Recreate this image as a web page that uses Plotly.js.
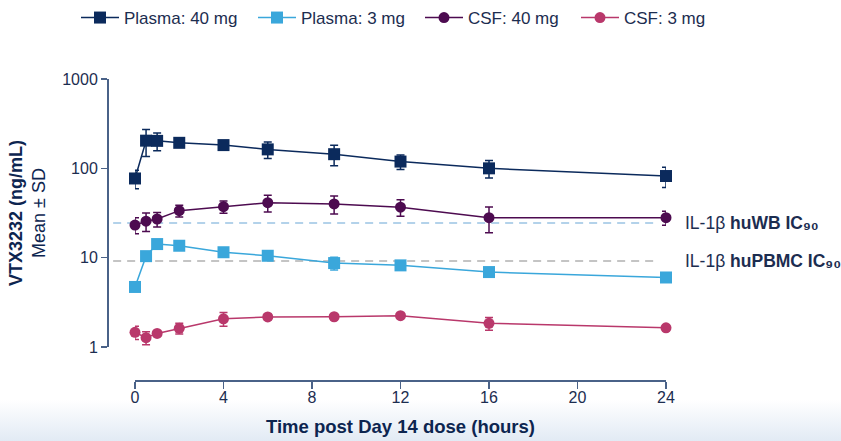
<!DOCTYPE html>
<html>
<head>
<meta charset="utf-8">
<script src="https://cdn.plot.ly/plotly-3.0.1.min.js"></script>
<style>html,body{margin:0;padding:0;background:#fff;}#chart{width:841px;height:441px;}</style>
</head>
<body>
<div id="chart"></div>
<script>
// ---- Data ----
const timeHours = [0, 0.5, 1, 2, 4, 6, 9, 12, 16, 24];
const plasma40 = [77, 204, 203, 193, 182, 163, 144, 119, 100, 82];
const plasma40Sd = [18, 68, 46, 10, 20, 34, 37, 22, 22, 21];
const plasma3 = [4.7, 10.4, 14.2, 13.6, 11.5, 10.5, 8.7, 8.2, 6.9, 6.0];
const plasma3Sd = [0.5, 0.5, 0.6, 0.6, 0.5, 0.6, 1.4, 0.5, 0.4, 0.3];
const csf40 = [23.2, 25.6, 27.1, 33.6, 37.2, 41.3, 39.9, 36.7, 28.0, 28.0];
const csf40Sd = [4.7, 6.0, 5.0, 5.0, 5.8, 8.8, 9.0, 7.7, 9.0, 5.0];
const csf3 = [1.46, 1.27, 1.42, 1.62, 2.07, 2.17, 2.18, 2.24, 1.84, 1.64];
const csf3Sd = [0.25, 0.21, 0.08, 0.22, 0.36, 0.15, 0.12, 0.10, 0.30, 0.08];
const seriesNames = ["Plasma: 40 mg", "Plasma: 3 mg", "CSF: 40 mg", "CSF: 3 mg"];
const icNames = ["IL-1β <b>huWB IC₉₀</b>", "IL-1β <b>huPBMC IC₉₀</b>"];
const icValues = [24.5, 9.2];
const xTickVals = [0, 4, 8, 12, 16, 20, 24];
const yTickVals = [1, 10, 100, 1000];
const yTickText = ["1", "10", "100", "1000"];

const navy = "#0b2a5c", lightBlue = "#3aa7db", purple = "#4d0b50", crimson = "#b9386b";
const textColor = "#1c2d50", axisColor = "#4a6288";
const legendIds = ["legend", "legend2", "legend3", "legend4"];
const legendLeftPx = [76, 253, 420, 576];

function series(i, y, sd, color, symbol, size) {
  return {
    x: timeHours, y: y, name: seriesNames[i], legend: legendIds[i],
    type: "scatter", mode: "lines+markers",
    line: {color: color, width: 1.5},
    marker: {color: color, symbol: symbol, size: size},
    error_y: {type: "data", array: sd, visible: true, color: color, thickness: 1.5, width: 4},
    cliponaxis: false
  };
}

const data = [
  series(0, plasma40, plasma40Sd, navy, "square", 12),
  series(1, plasma3, plasma3Sd, lightBlue, "square", 12),
  series(2, csf40, csf40Sd, purple, "circle", 11),
  series(3, csf3, csf3Sd, crimson, "circle", 11)
];

const icColors = ["#b3d2ea", "#c4c4c4"];
const shapes = icValues.map((v, i) => ({
  type: "line", xref: "paper", yref: "y", x0: 0.011, x1: 0.986, y0: v, y1: v,
  line: {color: icColors[i], width: 2, dash: "8px,6px"}, layer: "below"
}));

const annotations = icValues.map((v, i) => ({
  xref: "paper", yref: "y", x: (683 - 107) / 559, y: Math.log10(v), text: icNames[i],
  showarrow: false, xanchor: "left", yanchor: "middle",
  font: {family: "Liberation Sans, Arial, sans-serif", size: 17.5, color: textColor}
}));

const gradSvg = '<svg xmlns="http://www.w3.org/2000/svg" width="10" height="10" preserveAspectRatio="none"><defs><linearGradient id="g" x1="0" y1="0" x2="0" y2="1"><stop offset="0" stop-color="#ffffff"/><stop offset="1" stop-color="#e1eaf4"/></linearGradient></defs><rect width="10" height="10" fill="url(#g)"/></svg>';

const layout = {
  width: 841, height: 441,
  margin: {l: 107, r: 175, t: 79, b: 61, pad: 0},
  paper_bgcolor: "#ffffff", plot_bgcolor: "rgba(0,0,0,0)",
  font: {family: "Liberation Sans, Arial, sans-serif", color: textColor, size: 16},
  showlegend: true,
  xaxis: {
    domain: [28 / 559, 1], range: [0, 24], anchor: "free", position: 0,
    tickvals: xTickVals, ticks: "outside", ticklen: 7, tickwidth: 1.5, tickcolor: axisColor,
    showline: true, linecolor: axisColor, linewidth: 1.5, showgrid: false, zeroline: false,
    tickfont: {size: 16, color: textColor}, ticklabelstandoff: -5,
    title: {text: "<b>Time post Day 14 dose (hours)</b>", font: {size: 18.5, color: "#0d2550"}, standoff: 15}
  },
  yaxis: {
    type: "log", domain: [33 / 301, 1], range: [0, 3], anchor: "free", position: 0,
    tickvals: yTickVals, ticktext: yTickText, ticks: "outside", ticklen: 6, tickwidth: 1.5, tickcolor: axisColor,
    showline: true, linecolor: axisColor, linewidth: 1.5, showgrid: false, zeroline: false,
    tickfont: {size: 16, color: textColor},
    title: {text: "<b>VTX3232 (ng/mL)</b><br>Mean ± SD", font: {size: 18, color: "#0d2550"}, standoff: 10}
  },
  shapes: shapes,
  annotations: annotations,
  images: [{
    source: "data:image/svg+xml;charset=utf-8," + encodeURIComponent(gradSvg),
    xref: "paper", yref: "paper", x: -0.2, y: -20 / 301, sizex: 1.7, sizey: 42 / 301,
    sizing: "stretch", xanchor: "left", yanchor: "top", layer: "below"
  }]
};
legendIds.forEach((id, i) => {
  layout[id] = {
    orientation: "h", xref: "container", yref: "container",
    x: legendLeftPx[i] / 841, xanchor: "left", y: 1.0, yanchor: "top",
    font: {size: 17, color: textColor}, itemwidth: 38,
    bgcolor: "rgba(0,0,0,0)"
  };
});

Plotly.newPlot("chart", data, layout, {displayModeBar: false, staticPlot: true});
</script>
</body>
</html>
